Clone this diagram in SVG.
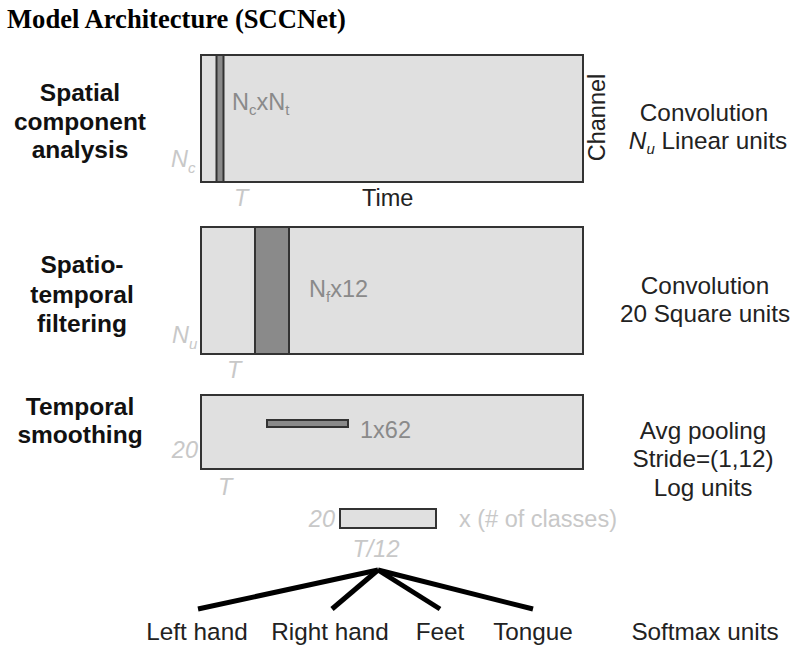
<svg xmlns="http://www.w3.org/2000/svg" width="810" height="655" viewBox="0 0 810 655">
<style>
.box{fill:#e0e0e0;stroke:#333;stroke-width:2}
.krn{fill:#8a8a8a;stroke:#333;stroke-width:2}
.t{font-family:"Liberation Sans",Arial,sans-serif;font-size:23.5px}
.lbl{font-family:"Liberation Sans",Arial,sans-serif;font-size:24.5px;font-weight:bold;fill:#111;text-anchor:middle}
.rt{font-family:"Liberation Sans",Arial,sans-serif;font-size:24.3px;fill:#222;text-anchor:middle}
.gray{fill:#8a8a8a}
.lg{fill:#c8c8c8;font-style:italic}
.dk{fill:#222}
.sub{font-size:15px}
.conn{stroke:#000;stroke-width:5;fill:none}
</style>
<rect width="810" height="655" fill="#fff"/>
<text x="7" y="28" font-family="Liberation Serif,'Times New Roman',serif" font-size="26.6" font-weight="bold" fill="#000">Model Architecture (SCCNet)</text>

<g id="label-spatial">
<text class="lbl" x="80" y="101">Spatial</text>
<text class="lbl" x="80" y="130">component</text>
<text class="lbl" x="80" y="158">analysis</text>
</g>
<g id="label-spatiotemporal">
<text class="lbl" x="82" y="273">Spatio-</text>
<text class="lbl" x="82" y="303">temporal</text>
<text class="lbl" x="82" y="332">filtering</text>
</g>
<g id="label-smoothing">
<text class="lbl" x="80" y="415">Temporal</text>
<text class="lbl" x="80" y="443">smoothing</text>
</g>

<g id="layer1">
<rect class="box" x="201" y="55" width="382" height="127"/>
<rect class="krn" x="216.5" y="55" width="7" height="127"/>
<text class="t gray" x="232" y="110">N<tspan class="sub" dy="5">c</tspan><tspan dy="-5">xN</tspan><tspan class="sub" dy="5">t</tspan></text>
<text class="t lg" x="171" y="167">N<tspan class="sub" dy="6">c</tspan></text>
<text class="t lg" x="234" y="206">T</text>
<text class="t dk" x="362" y="206">Time</text>
<text class="t dk" transform="translate(605,117.5) rotate(-90)" text-anchor="middle">Channel</text>
</g>
<g id="desc1">
<text class="rt" x="704" y="121">Convolution</text>
<text class="rt" x="708" y="149"><tspan font-style="italic">N</tspan><tspan class="sub" font-style="italic" dy="5">u</tspan><tspan dy="-5"> Linear units</tspan></text>
</g>

<g id="layer2">
<rect class="box" x="201" y="227" width="382" height="127"/>
<rect class="krn" x="255" y="227" width="34" height="127"/>
<text class="t gray" x="309" y="297">N<tspan class="sub" dy="5">f</tspan><tspan dy="-5">x12</tspan></text>
<text class="t lg" x="172" y="343">N<tspan class="sub" dy="6">u</tspan></text>
<text class="t lg" x="227" y="378">T</text>
</g>
<g id="desc2">
<text class="rt" x="705" y="294">Convolution</text>
<text class="rt" x="705" y="322">20 Square units</text>
</g>

<g id="layer3">
<rect class="box" x="201" y="395" width="382" height="74"/>
<rect class="krn" x="267" y="420" width="81" height="7"/>
<text class="t gray" x="360" y="438">1x62</text>
<text class="t lg" x="198" y="458" text-anchor="end">20</text>
<text class="t lg" x="218" y="495">T</text>
</g>
<g id="desc3">
<text class="rt" x="703" y="439">Avg pooling</text>
<text class="rt" x="703" y="467">Stride=(1,12)</text>
<text class="rt" x="703" y="496">Log units</text>
</g>

<g id="layer4">
<rect class="box" x="340" y="509" width="96" height="19"/>
<text class="t lg" x="335" y="527" text-anchor="end">20</text>
<text class="t" font-size="24.5" fill="#c8c8c8" x="459" y="527">x (# of classes)</text>
<text class="t lg" x="376" y="557" text-anchor="middle">T/12</text>
</g>

<g id="connectors">
<line class="conn" x1="378" y1="570" x2="198" y2="609"/>
<line class="conn" x1="378" y1="570" x2="332" y2="609"/>
<line class="conn" x1="378" y1="570" x2="440" y2="609"/>
<line class="conn" x1="378" y1="570" x2="533" y2="609"/>
</g>

<g id="out-left"><text class="rt" x="197" y="640">Left hand</text></g>
<g id="out-right"><text class="rt" x="330" y="640">Right hand</text></g>
<g id="out-feet"><text class="rt" x="440" y="640">Feet</text></g>
<g id="out-tongue"><text class="rt" x="533" y="640">Tongue</text></g>
<g id="desc4"><text class="rt" x="705" y="640">Softmax units</text></g>
</svg>
